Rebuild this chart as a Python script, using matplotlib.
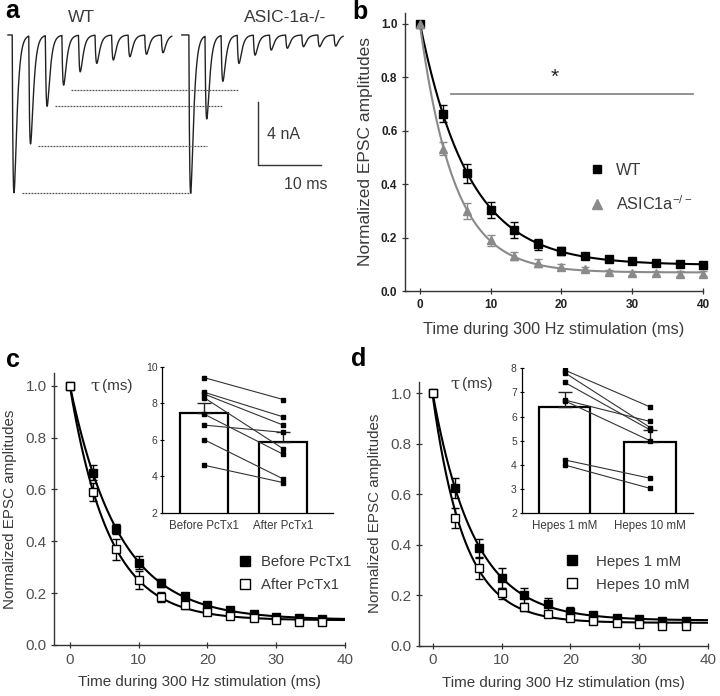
import numpy as np
import matplotlib.pyplot as plt
from matplotlib.lines import Line2D

plt.rcParams['font.family'] = ['Liberation Sans', 'DejaVu Sans']
plt.rcParams['mathtext.fontset'] = 'custom'
plt.rcParams['mathtext.rm'] = 'Liberation Sans'
plt.rcParams['mathtext.default'] = 'regular'

# ---- panel a: peak EPSC amplitudes (nA) of the example traces
wt_peaks = [9.98, 6.86, 4.49, 3.16, 2.32, 1.79, 1.58, 1.37, 1.22, 1.12]
ko_peaks = [10.0, 5.27, 2.91, 1.79, 1.27, 0.95, 0.84, 0.74, 0.74, 0.70]
dash_levels = [9.98, 7.0, 4.49, 3.48]

# ---- panel b: normalized amplitudes, WT vs ASIC1a-/-
stim_t = [0, 3.3, 6.7, 10, 13.3, 16.7, 20, 23.3, 26.7, 30, 33.3, 36.7, 40]
wt_amp = [1.0, 0.664, 0.44, 0.303, 0.23, 0.174, 0.149, 0.131, 0.118, 0.112, 0.106, 0.100, 0.096]
wt_err = [0, 0.03, 0.035, 0.03, 0.03, 0.02, 0.015, 0.01, 0.01, 0.01, 0.01, 0.01, 0.01]
ko_amp = [1.0, 0.533, 0.30, 0.19, 0.131, 0.103, 0.091, 0.082, 0.072, 0.068, 0.066, 0.065, 0.065]
ko_err = [0, 0.025, 0.03, 0.02, 0.015, 0.015, 0.01, 0.008, 0.008, 0.008, 0.008, 0.008, 0.008]

# ---- panel c: before / after PcTx1
c_t = [0, 3.3, 6.7, 10, 13.3, 16.7, 20, 23.3, 26.7, 30, 33.3, 36.7]
before_amp = [1.0, 0.665, 0.447, 0.317, 0.238, 0.189, 0.154, 0.135, 0.12, 0.109, 0.103, 0.099]
before_err = [0, 0.03, 0.02, 0.025, 0.015, 0.01, 0.01, 0.01, 0.01, 0.01, 0.01, 0.01]
after_amp = [1.0, 0.59, 0.369, 0.25, 0.186, 0.154, 0.129, 0.113, 0.103, 0.096, 0.09, 0.09]
after_err = [0, 0.035, 0.04, 0.035, 0.02, 0.015, 0.01, 0.01, 0.01, 0.01, 0.01, 0.01]
tau_before = [9.4, 8.6, 8.5, 8.3, 7.4, 6.8, 6.0, 4.6]
tau_after = [8.2, 7.25, 6.8, 5.5, 5.2, 6.4, 3.85, 3.65]

# ---- panel d: Hepes 1 mM / 10 mM
d_t = [0, 3.3, 6.7, 10, 13.3, 16.7, 20, 23.3, 26.7, 30, 33.3, 36.7]
h1_amp = [1.0, 0.626, 0.386, 0.267, 0.20, 0.164, 0.135, 0.122, 0.111, 0.106, 0.099, 0.098]
h1_err = [0, 0.04, 0.035, 0.04, 0.03, 0.025, 0.02, 0.01, 0.01, 0.01, 0.01, 0.01]
h10_amp = [1.0, 0.505, 0.306, 0.207, 0.152, 0.124, 0.111, 0.099, 0.089, 0.085, 0.079, 0.079]
h10_err = [0, 0.04, 0.04, 0.02, 0.015, 0.01, 0.01, 0.01, 0.008, 0.008, 0.008, 0.008]
tau_h1 = [7.93, 7.82, 7.42, 6.69, 6.66, 4.21, 4.0]
tau_h10 = [6.4, 5.55, 5.45, 5.8, 5.0, 3.45, 3.03]

TXT = '#3a3a3a'
GRAY = '#8a8a8a'

fig = plt.figure(figsize=(7.2, 6.96), dpi=100)


def px(x, y):
    return x / 720, 1 - y / 696


def box(l, t, r, b):
    return [l / 720, 1 - b / 696, (r - l) / 720, (b - t) / 696]


def expfit(t, y):
    # single exponential  y = A*exp(-t/tau) + C
    t = np.asarray(t, float)
    y = np.asarray(y, float)
    best = None
    for tau in np.arange(1.0, 15.0, 0.01):
        M = np.column_stack([np.exp(-t / tau), np.ones_like(t)])
        coef, res, _, _ = np.linalg.lstsq(M, y, rcond=None)
        r = np.sum((M @ coef - y) ** 2)
        if best is None or r < best[0]:
            best = (r, tau, coef)
    _, tau, (A, C) = best
    tt = np.linspace(0, 40, 300)
    return tt, A * np.exp(-tt / tau) + C


def epsc(t, t_peak, amp, tr=0.2, td=0.42):
    tp = np.log(td / tr) * tr * td / (td - tr)
    s = t - (t_peak - tp)
    norm = np.exp(-tp / td) - np.exp(-tp / tr)
    k = np.where(s > 0, np.exp(-s / td) - np.exp(-s / tr), 0.0) / norm
    return -amp * k


# ================= panel a
axa = fig.add_axes(box(0, 25, 350, 200))
axa.set_xlim(-1.27, 54.3)
axa.set_ylim(-10.44, 0.63)
axa.axis('off')

wt_times = 0.95 + 2.63 * np.arange(len(wt_peaks))
ko_times = 29.0 + 2.56 * np.arange(len(ko_peaks))
t1 = np.linspace(0.0, 26.0, 3000)
t2 = np.linspace(27.6, 53.2, 3000)
tr1 = sum(epsc(t1, tp, a) for tp, a in zip(wt_times, wt_peaks))
tr2 = sum(epsc(t2, tp, a) for tp, a in zip(ko_times, ko_peaks))
axa.plot(t1, tr1, color='#222222', lw=1.0)
axa.plot(t2, tr2, color='#222222', lw=1.0)
for i, lev in enumerate(dash_levels):
    axa.plot([wt_times[i] + 1.2, ko_times[i]], [-lev, -lev], color='#555555',
             lw=0.9, ls=(0, (1.5, 0.9)))
# scale bar 4 nA / 10 ms
axa.plot([39.7, 39.7, 49.7], [-4.23, -8.23, -8.23], color='#333333', lw=1.0)
axa.text(41.2, -6.3, '4 nA', fontsize=11.5, color=TXT, va='center', ha='left')
axa.text(47.3, -9.45, '10 ms', fontsize=11.5, color=TXT, va='center', ha='center')
fig.text(*px(81, 17), 'WT', fontsize=12.5, color=TXT, ha='center', va='center')
fig.text(*px(285, 17), 'ASIC-1a-/-', fontsize=12.5, color=TXT, ha='center', va='center')


def style_main(ax, bold):
    for s in ['top', 'right']:
        ax.spines[s].set_visible(False)
    for s in ['left', 'bottom']:
        ax.spines[s].set_color('#333333')
        ax.spines[s].set_linewidth(1.0)
    ax.tick_params(direction='inout', length=4, width=0.9, color='#333333')
    ax.set_xticks([0, 10, 20, 30, 40])
    ax.set_yticks([0, 0.2, 0.4, 0.6, 0.8, 1.0])
    ax.set_yticklabels(['0.0', '0.2', '0.4', '0.6', '0.8', '1.0'])
    if bold:
        for lab in ax.get_xticklabels() + ax.get_yticklabels():
            lab.set_fontweight('bold')
            lab.set_fontsize(8.5)
            lab.set_color('#222222')
    else:
        for lab in ax.get_xticklabels() + ax.get_yticklabels():
            lab.set_fontsize(11)
            lab.set_color('#505050')


# ================= panel b
axb = fig.add_axes(box(405, 13, 703, 291))
axb.set_xlim(-2.1, 40)
axb.set_ylim(0, 1.04)
style_main(axb, True)
tt, yy = expfit(stim_t, wt_amp)
axb.plot(tt, yy, color='black', lw=1.5)
tt, yy = expfit(stim_t, ko_amp)
axb.plot(tt, yy, color=GRAY, lw=1.5)
axb.errorbar(stim_t, wt_amp, yerr=wt_err, fmt='s', color='black', ms=5.5,
             capsize=3, elinewidth=1, capthick=1, clip_on=False, zorder=3)
axb.errorbar(stim_t, ko_amp, yerr=ko_err, fmt='^', color=GRAY, ms=6,
             capsize=3, elinewidth=1, capthick=1, clip_on=False, zorder=3)
axb.plot([4.4, 38.6], [0.736, 0.736], color=GRAY, lw=1.3)
axb.text(19, 0.80, '*', fontsize=15, ha='center', va='center', color='#222222')
axb.set_ylabel('Normalized EPSC amplitudes', fontsize=12.5, color=TXT, labelpad=6)
axb.set_xlabel('Time during 300 Hz stimulation (ms)', fontsize=11.7, color=TXT, labelpad=8)
hb = [Line2D([], [], marker='s', color='black', ls='none', ms=6),
      Line2D([], [], marker='^', color=GRAY, ls='none', ms=6.5)]
axb.legend(hb, ['WT', 'ASIC1a$^{-/-}$'], loc='center left', bbox_to_anchor=(0.621, 0.371),
           frameon=False, fontsize=11.7, handlelength=0.8, handletextpad=0.8,
           labelspacing=1.0, borderpad=0, borderaxespad=0, labelcolor=TXT)

# ================= panel c
axc = fig.add_axes(box(54.3, 372.7, 345, 645))
axc.set_xlim(-2.28, 40)
axc.set_ylim(0, 1.05)
style_main(axc, False)
tt, yy = expfit(c_t, before_amp)
axc.plot(tt, yy, color='black', lw=1.5)
tt, yy = expfit(c_t, after_amp)
axc.plot(tt, yy, color='black', lw=1.5)
axc.errorbar(c_t, before_amp, yerr=before_err, fmt='s', color='black', ms=6,
             capsize=3, elinewidth=1, capthick=1, zorder=3)
axc.errorbar(c_t, after_amp, yerr=after_err, fmt='s', color='black', mfc='white',
             ms=6, mew=1, capsize=3, elinewidth=1, capthick=1, zorder=3)
axc.set_ylabel('Normalized EPSC amplitudes', fontsize=10.9, color=TXT, labelpad=6)
axc.set_xlabel('Time during 300 Hz stimulation (ms)', fontsize=10.9, color=TXT, labelpad=6)
hc = [Line2D([], [], marker='s', color='black', ls='none', ms=6.5),
      Line2D([], [], marker='s', color='black', mfc='white', ls='none', ms=6.5)]
axc.legend(hc, ['Before PcTx1', 'After PcTx1'], loc='center left', bbox_to_anchor=(0.635, 0.261),
           frameon=False, fontsize=10.7, handlelength=0.8, handletextpad=0.7,
           labelspacing=0.6, borderpad=0, borderaxespad=0, labelcolor=TXT)

# ================= panel d
axd = fig.add_axes(box(419.3, 381.7, 708.3, 645.7))
axd.set_xlim(-1.94, 40)
axd.set_ylim(0, 1.046)
style_main(axd, False)
tt, yy = expfit(d_t, h1_amp)
axd.plot(tt, yy, color='black', lw=1.5)
tt, yy = expfit(d_t, h10_amp)
axd.plot(tt, yy, color='black', lw=1.5)
axd.errorbar(d_t, h1_amp, yerr=h1_err, fmt='s', color='black', ms=6,
             capsize=3, elinewidth=1, capthick=1, zorder=3)
axd.errorbar(d_t, h10_amp, yerr=h10_err, fmt='s', color='black', mfc='white',
             ms=6, mew=1, capsize=3, elinewidth=1, capthick=1, zorder=3)
axd.set_ylabel('Normalized EPSC amplitudes', fontsize=10.9, color=TXT, labelpad=6)
axd.set_xlabel('Time during 300 Hz stimulation (ms)', fontsize=10.9, color=TXT, labelpad=6)
hd = [Line2D([], [], marker='s', color='black', ls='none', ms=6.5),
      Line2D([], [], marker='s', color='black', mfc='white', ls='none', ms=6.5)]
axd.legend(hd, ['Hepes 1 mM', 'Hepes 10 mM'], loc='center left', bbox_to_anchor=(0.506, 0.275),
           frameon=False, fontsize=10.8, handlelength=0.8, handletextpad=1.2,
           labelspacing=0.6, borderpad=0, borderaxespad=0, labelcolor=TXT)


# ================= insets
def inset(rect, vals_a, vals_b, labels, xlim, ylim, yticks, width):
    ax = fig.add_axes(rect)
    va = np.array(vals_a)
    vb = np.array(vals_b)
    means = [va.mean(), vb.mean()]
    sems = [va.std(ddof=1) / np.sqrt(len(va)), vb.std(ddof=1) / np.sqrt(len(vb))]
    ax.bar([0, 1], means, width=width, color='white', edgecolor='black', linewidth=1.6, zorder=1)
    ax.errorbar([0, 1], means, yerr=[[0, 0], sems], fmt='none', ecolor='#222222',
                elinewidth=1, capsize=5, capthick=1, zorder=2)
    for a, b in zip(va, vb):
        ax.plot([0, 1], [a, b], color='#333333', lw=0.8, marker='s', ms=3,
                mfc='black', mec='black', zorder=3)
    ax.set_xlim(*xlim)
    ax.set_ylim(*ylim)
    for s in ['top', 'right']:
        ax.spines[s].set_visible(False)
    ax.spines['left'].set_linewidth(0.9)
    ax.spines['bottom'].set_linewidth(0.9)
    ax.set_yticks(yticks)
    ax.set_xticks([0, 1])
    ax.set_xticklabels(labels, fontsize=8.3, color=TXT)
    ax.tick_params(axis='x', length=0, pad=5)
    ax.tick_params(axis='y', direction='inout', length=3, width=0.8, labelsize=7.5,
                   labelcolor=TXT, pad=2)
    return ax


inset(box(162.3, 366.7, 333, 512.7), tau_before, tau_after, ['Before PcTx1', 'After PcTx1'],
      (-0.53, 1.63), (2, 10), [2, 4, 6, 8, 10], 0.61)
inset(box(521.7, 368.3, 693, 513.3), tau_h1, tau_h10, ['Hepes 1 mM', 'Hepes 10 mM'],
      (-0.5, 1.5), (2, 8), [2, 3, 4, 5, 6, 7, 8], 0.6)

for (x, y) in [(93, 386), (453, 384)]:
    fig.text(*px(x + 8, y), r'$\tau$', fontsize=12, color=TXT, ha='right', va='center',
             family='DejaVu Serif')
    fig.text(*px(x + 9, y), '(ms)', fontsize=11, color=TXT, ha='left', va='center')

# panel letters
for lab, (x, y) in zip('abcd', [(12, 11), (360, 12), (13, 360), (359, 359)]):
    fig.text(*px(x, y), lab, fontsize=18, fontweight='bold', ha='center', va='center')

fig.savefig('out.png', dpi=100)
